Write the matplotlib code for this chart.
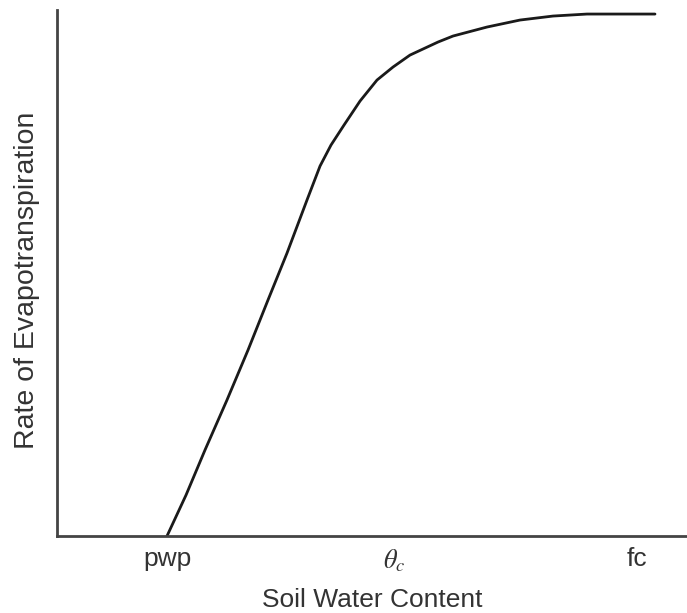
import matplotlib
matplotlib.use("Agg")
import matplotlib.pyplot as plt

plt.rcParams['font.family'] = ['Liberation Sans', 'DejaVu Sans']
plt.rcParams['mathtext.fontset'] = 'stix'

# Curve (arbitrary units, 0-10 on both axes)
water_content = [1.746, 2.048, 2.349, 2.698, 3.032, 3.349, 3.651, 3.968, 4.175, 4.349,
                 4.556, 4.810, 5.079, 5.333, 5.603, 6.048, 6.286, 6.825, 7.349, 7.873,
                 8.413, 8.937, 9.492]
et_rate = [0.0, 0.779, 1.635, 2.586, 3.536, 4.487, 5.380, 6.388, 7.034, 7.433,
           7.814, 8.270, 8.669, 8.916, 9.144, 9.392, 9.506, 9.677, 9.810, 9.886,
           9.924, 9.924, 9.924]

tick_pos = [1.76, 5.35, 9.2]
tick_labels = ['pwp', r'$\theta_c$', 'fc']


def main():
    fig = plt.figure(figsize=(6.87, 6.13), dpi=100)
    ax = fig.add_axes([0.083, 0.1256, 0.917, 0.858])

    ax.plot(water_content, et_rate, color='#1a1a1a', lw=2.0,
            solid_capstyle='round', solid_joinstyle='round')

    ax.set_xlim(0, 10)
    ax.set_ylim(0, 10)
    ax.set_xticks(tick_pos)
    ax.set_xticklabels(tick_labels, fontsize=19, color='#333333')
    ax.tick_params(axis='x', length=0, pad=8)
    ax.set_yticks([])

    for side in ['top', 'right']:
        ax.spines[side].set_visible(False)
    for side in ['left', 'bottom']:
        ax.spines[side].set_linewidth(2.0)
        ax.spines[side].set_color('#444444')

    ax.set_xlabel('Soil Water Content', fontsize=19, color='#333333', labelpad=10)
    ax.set_ylabel('Rate of Evapotranspiration', fontsize=20.5, color='#333333', labelpad=12)
    ax.yaxis.label.set_y(0.487)

    fig.savefig('out.png', dpi=100)


main()
